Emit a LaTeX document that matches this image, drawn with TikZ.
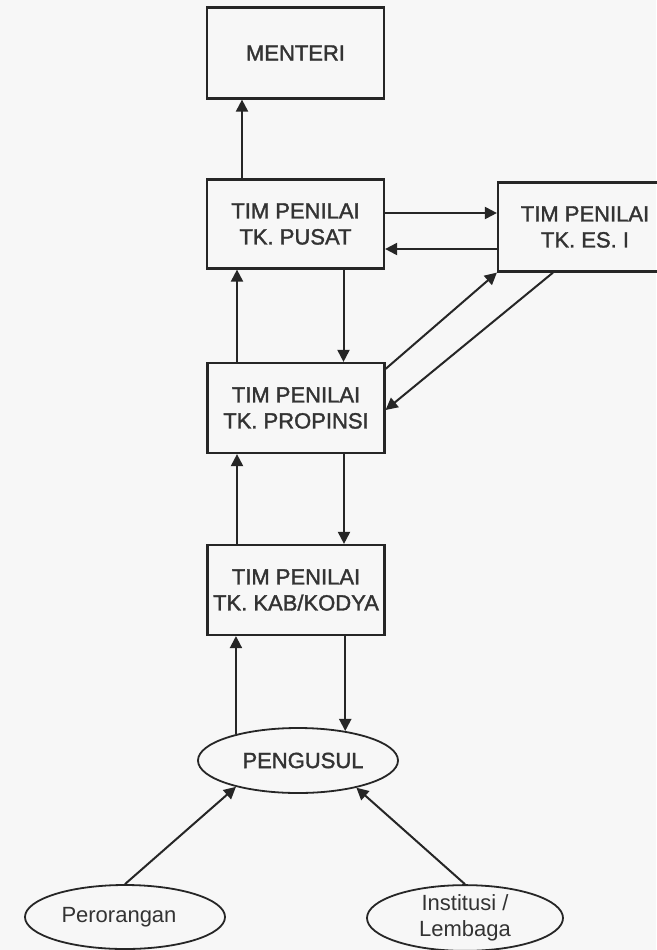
\documentclass[tikz,border=0pt]{standalone}
\usepackage{fontspec}
\setmainfont{Liberation Sans}
\newfontfamily\scanfont{Liberation Sans}[FakeBold=1.6]
\usetikzlibrary{arrows.meta,shapes.geometric}

\begin{document}
\begin{tikzpicture}[
  x=1pt, y=-1pt,
  % --- shared block base ---
  blkbase/.style={
    draw=black!85, line width=2.2pt, align=center, inner sep=0pt,
    text=black!80, font=\fontsize{22}{26}\selectfont
  },
  heavy/.style={font=\scanfont\fontsize{22}{26}\selectfont},
  % --- block types ---
  tim/.style={blkbase, heavy, rectangle, minimum width=177pt, minimum height=89pt},
  oval/.style={blkbase, ellipse, line width=1.8pt, minimum width=200pt, minimum height=64pt},
  % --- arrows ---
  arr/.style={-{Triangle[length=12pt, width=12pt]}, line width=2pt, draw=black!85},
]

% page with its margins
\useasboundingbox[fill=black!3] (0,0) rectangle (656,950);

% ===================== BOXES =====================

\node[tim, minimum height=91pt] (menteri) at (295.5, 53) {MENTERI};
\node[tim] (pusat) at (295.5, 224) {TIM PENILAI\\TK. PUSAT};
\node[tim, minimum width=174pt] (esi) at (585, 227) {TIM PENILAI\\TK. ES. I};
\node[tim, minimum height=90pt] (propinsi) at (296, 408) {TIM PENILAI\\TK. PROPINSI};
\node[tim, minimum height=90pt] (kab) at (296, 590) {TIM PENILAI\\TK. KAB/KODYA};

% ===================== OVALS =====================

\node[oval, heavy, minimum height=65pt] (pengusul) at (298, 760.5) {\hspace{10pt}PENGUSUL};
\node[oval] (perorangan) at (125, 917) {Perorangan\hspace{12pt}};
\node[oval, minimum width=196pt] (institusi) at (465, 918) {Institusi /\\Lembaga};

% ===================== ARROWS =====================

% up the chain (left side)
\draw[arr] ([xshift=-53.5pt]pusat.north) -- ([xshift=-53.5pt]menteri.south);
\draw[arr] ([xshift=-59pt]propinsi.north) -- ([xshift=-59pt]propinsi.north |- pusat.south);
\draw[arr] ([xshift=-59pt]kab.north) -- ([xshift=-59pt]kab.north |- propinsi.south);
\draw[arr] (pengusul.157) -- (pengusul.157 |- kab.south);

% down the chain (right side)
\draw[arr] ([xshift=48pt]pusat.south) -- ([xshift=48pt]pusat.south |- propinsi.north);
\draw[arr] ([xshift=48pt]propinsi.south) -- ([xshift=48pt]propinsi.south |- kab.north);
\draw[arr] (kab.south -| pengusul.32) -- (pengusul.32);

% pusat <-> es. i
\draw[arr] ([yshift=11pt]pusat.east) -- ([yshift=11pt]pusat.east -| esi.west);
\draw[arr] ([yshift=-25pt]pusat.east -| esi.west) -- ([yshift=-25pt]pusat.east);

% propinsi <-> es. i
\draw[arr] ([yshift=-7pt]propinsi.north east) -- (esi.south west);
\draw[arr] ([xshift=-32pt]esi.south) -- ([yshift=-2pt]propinsi.east);

% proposers
\draw[arr] (perorangan.north) -- (pengusul.203);
\draw[arr] (institusi.north) -- (pengusul.335);

\end{tikzpicture}
\end{document}
